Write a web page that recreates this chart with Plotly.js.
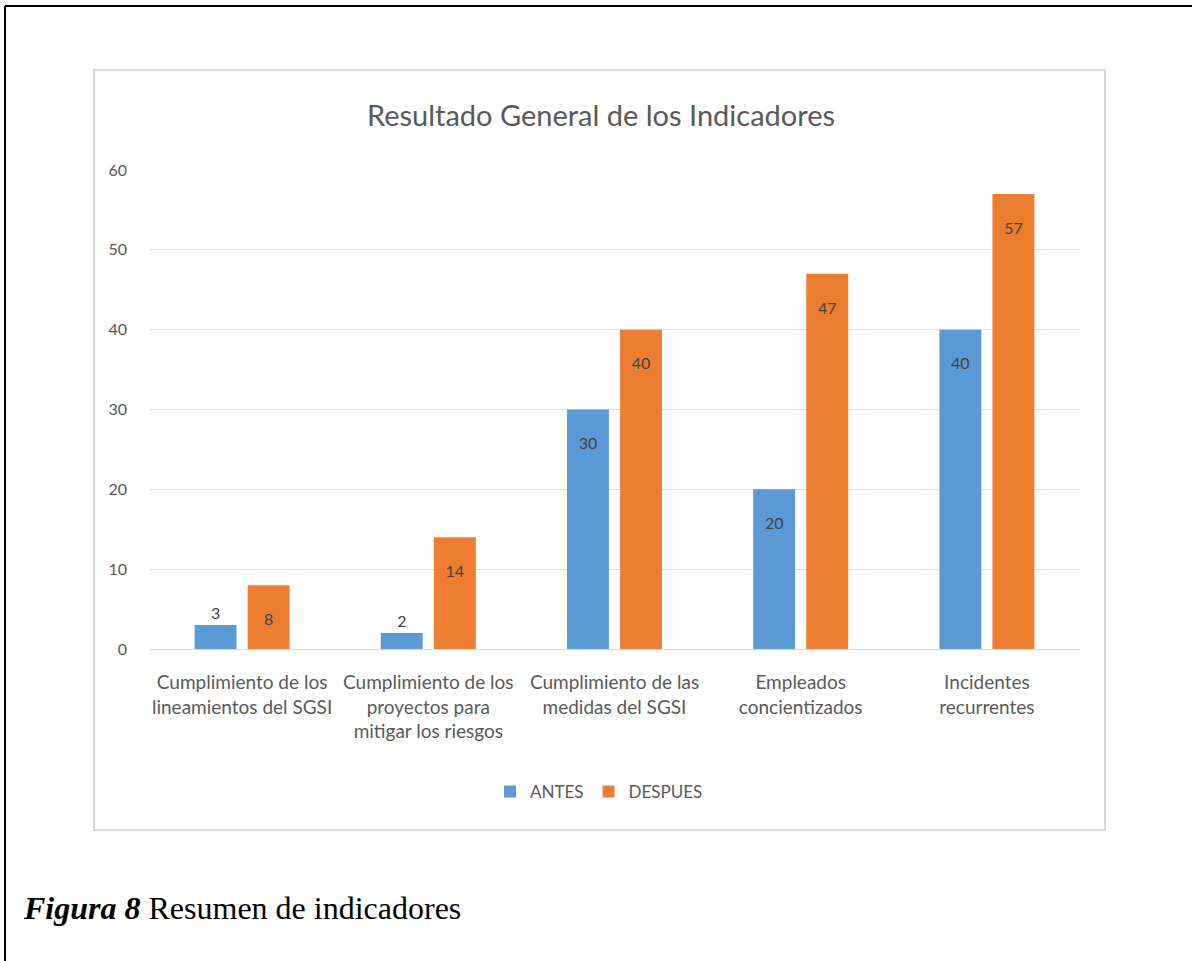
<!DOCTYPE html>
<html>
<head>
<meta charset="utf-8">
<script src="https://cdn.plot.ly/plotly-3.0.1.min.js"></script>
<style>
html, body { margin: 0; padding: 0; background: #ffffff; }
#chart { width: 1192px; height: 961px; }
</style>
</head>
<body>
<div id="chart"></div>
<script>
// ---- data ----
const categories = [
  "Cumplimiento de los<br>lineamientos del SGSI",
  "Cumplimiento de los<br>proyectos para<br>mitigar los riesgos",
  "Cumplimiento de las<br>medidas del SGSI",
  "Empleados<br>concientizados",
  "Incidentes<br>recurrentes"
];
const antes = [3, 2, 30, 20, 40];
const despues = [8, 14, 40, 47, 57];
const seriesNames = ["ANTES", "DESPUES"];
const yTicks = [0, 10, 20, 30, 40, 50, 60];
const chartTitle = "Resultado General de los Indicadores";
const captionBold = "Figura 8";
const captionText = " Resumen de indicadores";

// ---- geometry helpers (pixel -> paper) ----
const W = 1192, H = 961;
const L = 149, R = 1080, T = 170, B = 649;
const px = x => (x - L) / (R - L);
const py = y => (B - y) / (B - T);

const FONT = "Lato, 'Open Sans', sans-serif";
const labelFont = { family: FONT, size: 16, color: "#404040" };
// invisible spacer line pushes the value down from the bar end, like the original
const labelTemplate = "<span style='color:rgba(0,0,0,0)'>.</span><br>%{text}";

function barTrace(name, values, color) {
  return {
    type: "bar", name: name, x: categories, y: values,
    marker: { color: color },
    text: values.map(String), texttemplate: labelTemplate,
    textposition: "auto", insidetextanchor: "end", textangle: 0,
    textfont: labelFont, insidetextfont: labelFont, outsidetextfont: labelFont,
    cliponaxis: false, hoverinfo: "x+y"
  };
}

const traces = [
  barTrace(seriesNames[0], antes, "#5B9BD5"),
  barTrace(seriesNames[1], despues, "#ED7D31")
];

const layout = {
  width: W, height: H,
  paper_bgcolor: "#ffffff", plot_bgcolor: "#ffffff",
  margin: { l: L, r: W - R, t: T, b: H - B, pad: 0 },
  font: { family: FONT, color: "#595959" },
  title: {
    text: chartTitle,
    font: { family: FONT, size: 29, color: "#595959" },
    x: 601 / W, xanchor: "center", xref: "container",
    y: 1 - 116 / H, yanchor: "middle", yref: "container"
  },
  barmode: "group",
  bargap: 0.43,
  bargroupgap: 0.21,
  showlegend: true,
  legend: {
    orientation: "h", x: px(599), xanchor: "center", y: py(792), yanchor: "middle",
    font: { family: FONT, size: 17, color: "#595959" },
    itemwidth: 30, traceorder: "normal"
  },
  xaxis: {
    type: "category",
    showline: true, linecolor: "#d9d9d9", linewidth: 1,
    ticks: "", showgrid: false, zeroline: false,
    tickfont: { family: FONT, size: 19, color: "#595959" },
    ticklabelstandoff: 16,
    fixedrange: true
  },
  yaxis: {
    range: [0, 60], tickvals: yTicks, ticktext: yTicks.map(String),
    showgrid: true, gridcolor: "#dedede", gridwidth: 1,
    zeroline: false, showline: false, ticks: "",
    tickfont: { family: FONT, size: 16, color: "#595959" },
    ticklabelstandoff: 21,
    fixedrange: true
  },
  shapes: [
    // chart area frame
    { type: "rect", xref: "paper", yref: "paper", layer: "below",
      x0: px(94), x1: px(1105), y0: py(830), y1: py(70),
      line: { color: "#d9d9d9", width: 2 }, fillcolor: "rgba(0,0,0,0)" },
    // outer document frame (left and top)
    { type: "line", xref: "paper", yref: "paper",
      x0: px(5), x1: px(5), y0: py(975), y1: py(6),
      line: { color: "#000000", width: 2 } },
    { type: "line", xref: "paper", yref: "paper",
      x0: px(5), x1: px(1200), y0: py(6), y1: py(6),
      line: { color: "#000000", width: 2 } }
  ],
  annotations: [
    { xref: "paper", yref: "paper", x: px(21), y: py(908), xanchor: "left", yanchor: "middle",
      showarrow: false,
      text: "<b><i>" + captionBold + "</i></b>" + captionText,
      font: { family: "'Liberation Serif', 'Times New Roman', serif", size: 32, color: "#000000" } }
  ]
};

Plotly.newPlot("chart", traces, layout, { displayModeBar: false, staticPlot: true });
</script>
</body>
</html>
